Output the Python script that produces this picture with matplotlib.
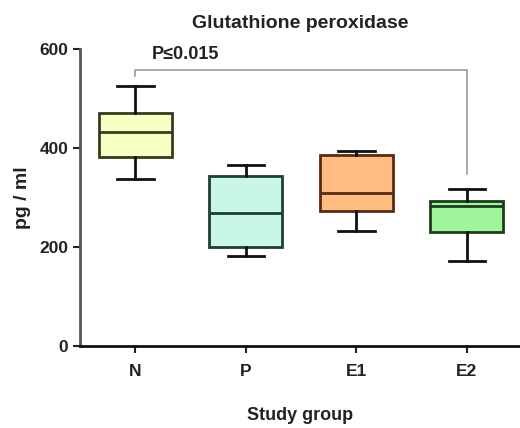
import matplotlib
matplotlib.use("Agg")
import matplotlib.pyplot as plt

plt.rcParams['font.family'] = ['Liberation Sans', 'DejaVu Sans']
plt.rcParams['font.weight'] = 'bold'

groups = ['N', 'P', 'E1', 'E2']
# five-number summaries: whisker low, Q1, median, Q3, whisker high (pg/ml)
whislo = [337, 181, 232, 171]
q1 = [381, 200, 273, 230]
med = [432, 269, 310, 283]
q3 = [470, 344, 386, 293]
whishi = [526, 366, 394, 317]

fills = ['#f8ffc2', '#c9f7e6', '#ffbd82', '#a0f59b']
edges = ['#3a3a1e', '#1f3f32', '#5a2a12', '#1c3c1c']

bracket_y = 558
bracket_right_low = 347
p_label = 'P\u22640.015'

fig = plt.figure(figsize=(5.2, 4.28), dpi=100)
ax = fig.add_axes([0.154, 0.1916, 0.846, 0.694])

stats = []
for i, g in enumerate(groups):
    stats.append(dict(label=g, whislo=whislo[i], q1=q1[i], med=med[i],
                      q3=q3[i], whishi=whishi[i], fliers=[]))

pos = list(range(len(groups)))
bp = ax.bxp(stats, positions=pos, widths=0.66, patch_artist=True,
            showfliers=False)
for i in range(len(groups)):
    box = bp['boxes'][i]
    box.set_facecolor(fills[i])
    box.set_edgecolor(edges[i])
    box.set_linewidth(2)
    bp['medians'][i].set_color(edges[i])
    bp['medians'][i].set_linewidth(2)
    for w in bp['whiskers'][2 * i:2 * i + 2]:
        w.set_color('#111111')
        w.set_linewidth(2)
    for c in bp['caps'][2 * i:2 * i + 2]:
        c.set_color('#111111')
        c.set_linewidth(2)
        c.set_xdata([pos[i] - 0.165, pos[i] + 0.165])

# significance bracket between N and E2
ax.plot([0, 0, 3, 3], [bracket_y - 12, bracket_y, bracket_y, bracket_right_low],
        color='#999999', lw=1.2, clip_on=False)
ax.text(0.15, 589, p_label, fontsize=13, fontweight='bold', color='#222222',
        va='center', ha='left', clip_on=False)

ax.set_xlim(-0.5, 3.48)
ax.set_ylim(0, 600)
ax.set_yticks([0, 200, 400, 600])
ax.set_xticks(pos)
ax.set_xticklabels(groups)
ax.tick_params(axis='both', labelsize=12.5, width=1.5, length=5, colors='#222222')
ax.tick_params(axis='x', pad=8)
for t in ax.get_xticklabels() + ax.get_yticklabels():
    t.set_fontweight('bold')

ax.spines['top'].set_visible(False)
ax.spines['right'].set_visible(False)
ax.spines['left'].set_color('#555555')
ax.spines['left'].set_linewidth(2)
ax.spines['bottom'].set_color('#111111')
ax.spines['bottom'].set_linewidth(2)

ax.set_title('Glutathione peroxidase', fontsize=14, fontweight='bold',
             color='#222222', pad=15)
ax.set_ylabel('pg / ml', fontsize=14, fontweight='bold', color='#222222',
              labelpad=6)
ax.set_xlabel('Study group', fontsize=13, fontweight='bold', color='#222222',
              labelpad=20)

fig.savefig('out.png', dpi=100)
